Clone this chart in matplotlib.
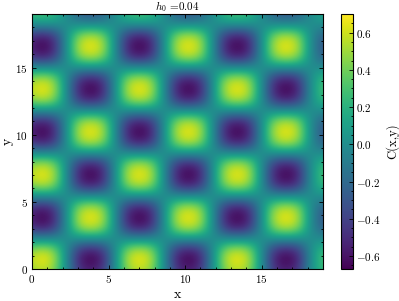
import matplotlib
matplotlib.use('Agg')
import matplotlib.pyplot as plt
from matplotlib.ticker import MultipleLocator
import numpy as np

# ---- data ----
# field sampled on a uniform grid (node spacing = quarter of half-period)
grid_start = -0.15
grid_step = 0.7975
# normalised profile along x and along y (peak = 1)
x_profile = [0.8, 1.0, 0.8, 0.0, -0.8, -1.0, -0.8, 0.0, 0.8, 1.0, 0.8, 0.0,
             -0.8, -1.0, -0.8, 0.0, 0.8, 1.0, 0.8, 0.0, -0.8, -1.0, -0.8, 0.0, 0.45]
y_profile = [0.8, 1.0, 0.8, 0.0, -0.8, -1.0, -0.8, 0.0, 0.8, 1.0, 0.8, 0.0,
             -0.8, -1.0, -0.8, 0.0, 0.8, 1.0, 0.8, 0.0, -0.8, -1.0, -0.8, 0.0, 0.45]
amplitude = 0.69
c_min, c_max = -0.67, 0.70
x_ticks = [0, 5, 10, 15]
y_ticks = [0, 5, 10, 15]
cbar_ticks = [-0.6, -0.4, -0.2, 0.0, 0.2, 0.4, 0.6]
title = r'$h_0$ =0.04'

plt.rcParams.update({
    'font.family': 'serif',
    'font.serif': ['cmr10'],
    'mathtext.fontset': 'cm',
    'axes.formatter.use_mathtext': True,
    'axes.unicode_minus': True,
})

Z = amplitude * np.outer(y_profile, x_profile)
nx = len(x_profile)
ny = len(y_profile)
x0 = grid_start - grid_step / 2
x1 = grid_start + grid_step * (nx - 1) + grid_step / 2
y0 = grid_start - grid_step / 2
y1 = grid_start + grid_step * (ny - 1) + grid_step / 2

fig = plt.figure(figsize=(3.99, 3.01), dpi=100)
ax = fig.add_axes([32 / 399, 32 / 301, 291 / 399, 255 / 301])
im = ax.imshow(Z, origin='lower', extent=[x0, x1, y0, y1], cmap='viridis',
               vmin=c_min, vmax=c_max, interpolation='bicubic',
               interpolation_stage='data', aspect='auto')
ax.set_xlim(0, 19)
ax.set_ylim(0, 19)
ax.set_xticks(x_ticks)
ax.set_yticks(y_ticks)
ax.xaxis.set_minor_locator(MultipleLocator(1))
ax.yaxis.set_minor_locator(MultipleLocator(1))
ax.tick_params(which='both', direction='in', top=True, right=True, labelsize=8,
               width=0.6, pad=3)
ax.tick_params(which='major', length=3)
ax.tick_params(which='minor', length=1.6)
for s in ax.spines.values():
    s.set_linewidth(0.8)
ax.set_xlabel('x', fontsize=10, labelpad=3)
ax.set_ylabel('y', fontsize=10, labelpad=1)
ax.set_title(title, fontsize=8, pad=2)

cax = fig.add_axes([341 / 399, 32 / 301, 12 / 399, 255 / 301])
cb = fig.colorbar(im, cax=cax)
cb.set_ticks(cbar_ticks)
cb.ax.yaxis.set_minor_locator(MultipleLocator(0.05))
cb.ax.tick_params(which='both', direction='in', labelsize=8, width=0.6, pad=2)
cb.ax.tick_params(which='major', length=3)
cb.ax.tick_params(which='minor', length=1.6)
cb.outline.set_linewidth(0.8)
cb.set_label('C(x,y)', fontsize=9, labelpad=4)

fig.savefig('out.png', dpi=100)
